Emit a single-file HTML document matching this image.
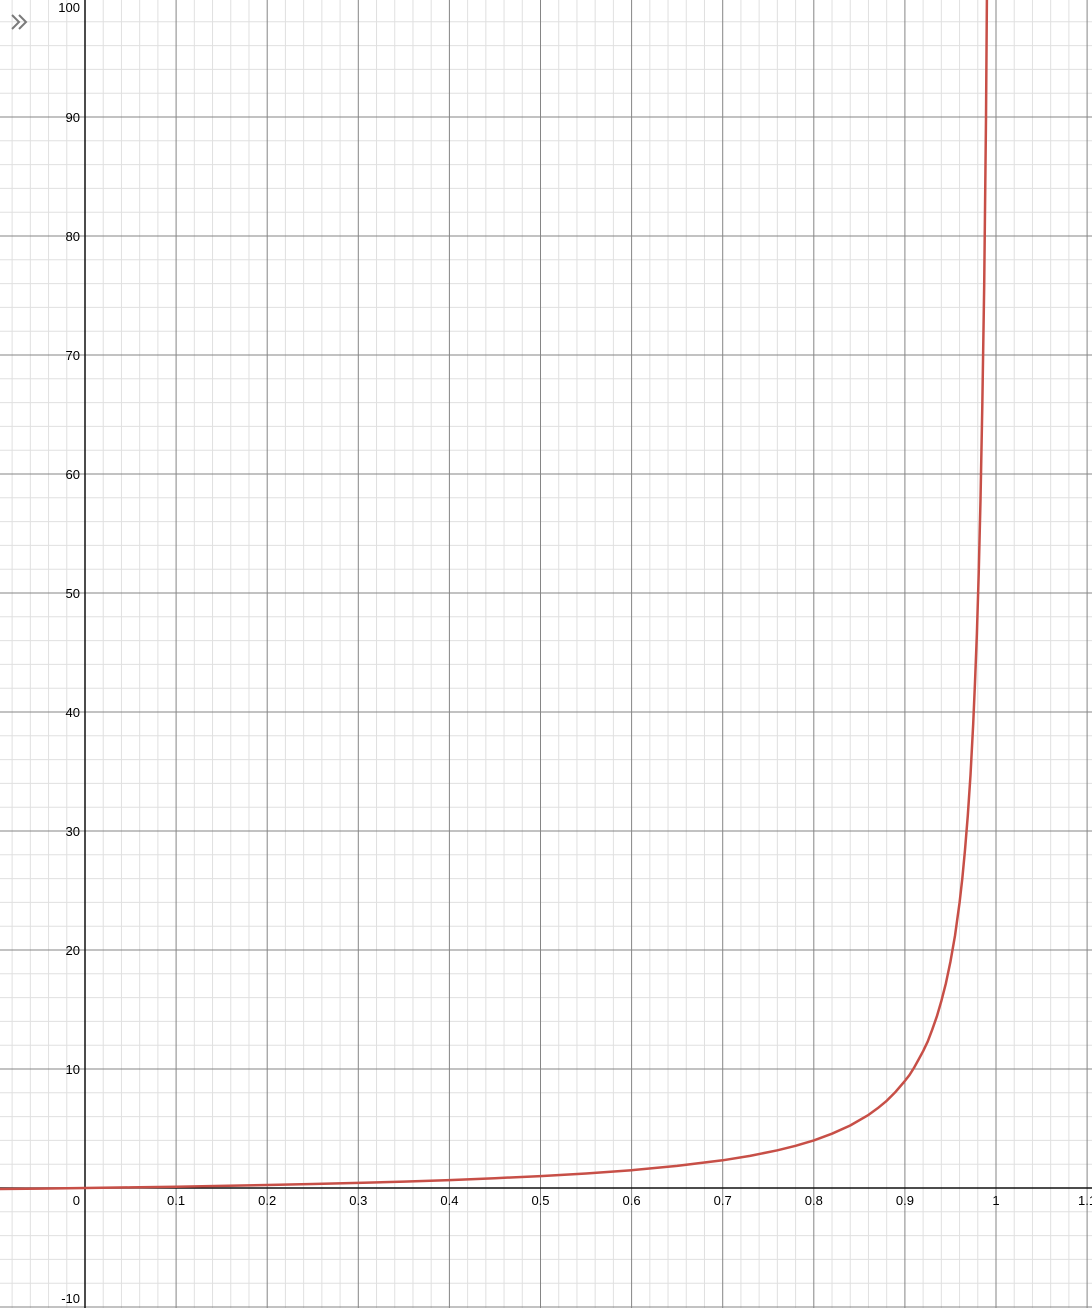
<!DOCTYPE html>
<html><head><meta charset="utf-8"><style>
html,body{margin:0;padding:0;background:#fff;}
svg{display:block;font-family:"Liberation Sans",Arial,sans-serif;}
</style></head><body>
<svg id="chart" width="1092" height="1308" viewBox="0 0 1092 1308">
<g id="minor"></g>
<g id="major"></g>
<g id="axes"></g>
<g id="labels"></g>
<g id="curve"></g>
<g fill="none" stroke="#7a7a7a" stroke-width="2">
<polyline points="12,15 19,22 12,29"/><polyline points="19,15 26,22 19,29"/>
</g>
</svg>
<script>
const xTicks = [0.1,0.2,0.3,0.4,0.5,0.6,0.7,0.8,0.9,1,1.1];
const xTickLabels = ["0.1","0.2","0.3","0.4","0.5","0.6","0.7","0.8","0.9","1","1.1"];
const yTicks = [-10,10,20,30,40,50,60,70,80,90,100];
const yTickLabels = ["-10","10","20","30","40","50","60","70","80","90","100"];
const curveX = [-0.1,-0.05,0,0.05,0.1,0.15,0.2,0.25,0.3,0.35,0.4,0.45,0.5,0.55,0.6,0.65,0.7,0.73,0.76,0.78,0.8,0.82,0.84,0.86,0.87,0.88,0.89,0.9,0.905,0.91,0.915,0.92,0.925,0.93,0.935,0.94,0.945,0.95,0.955,0.96,0.963,0.966,0.969,0.972,0.975,0.977,0.979,0.981,0.983,0.985,0.987,0.989,0.991];
const curveY = [-0.09,-0.048,0,0.053,0.111,0.176,0.25,0.333,0.43,0.54,0.667,0.82,1,1.22,1.5,1.86,2.33,2.7,3.17,3.55,4,4.56,5.25,6.14,6.7,7.33,8.1,9,9.5,10.1,10.8,11.5,12.3,13.3,14.4,15.7,17.2,19,21.2,24,26,28.4,31.3,34.7,39,42.5,46.6,51.6,57.8,65.7,75.9,89.9,110];
const NS="http://www.w3.org/2000/svg";
const X0=85, XS=911, Y0=1188, YS=11.9, W=1092, H=1308;
const sx=v=>X0+v*XS, sy=v=>Y0-v*YS;
function mk(tag,attrs,parent){const e=document.createElementNS(NS,tag);for(const k in attrs)e.setAttribute(k,attrs[k]);parent.appendChild(e);return e;}
const minor=document.getElementById('minor'),major=document.getElementById('major'),axes=document.getElementById('axes'),labels=document.getElementById('labels'),curve=document.getElementById('curve');
for(let i=-5;i<=60;i++){const x=sx(i*0.02);if(x<0||x>W)continue;
 const l=mk('line',{x1:x,y1:0,x2:x,y2:H,stroke:i%5===0?'#858585':'#e0e0e0','stroke-width':1},i%5===0?major:minor);
 
 }
for(let j=-6;j<=52;j++){const y=sy(j*2);if(y<0||y>H)continue;
 const l=mk('line',{x1:0,y1:y,x2:W,y2:y,stroke:j%5===0?'#858585':'#e0e0e0','stroke-width':1},j%5===0?major:minor);
 
 }
const xa=mk('line',{x1:0,y1:Y0,x2:W,y2:Y0,stroke:'#111','stroke-width':1.5},axes);


const ya=mk('line',{x1:X0,y1:0,x2:X0,y2:H,stroke:'#111','stroke-width':1.5},axes);


xTicks.forEach((v,i)=>{const t=mk('text',{x:sx(v),y:Y0+17,'font-size':13,'text-anchor':'middle',fill:'#000'},labels);t.textContent=xTickLabels[i];
 
 });
yTicks.forEach((v,i)=>{const t=mk('text',{x:X0-5,y:Math.min(Math.max(sy(v)+5,12),H-5),'font-size':13,'text-anchor':'end',fill:'#000'},labels);t.textContent=yTickLabels[i];
 
 });
const z=mk('text',{x:X0-5,y:Y0+17,'font-size':13,'text-anchor':'end',fill:'#000'},labels);z.textContent='0';


let d='';curveX.forEach((v,i)=>{d+=(i?'L':'M')+sx(v).toFixed(1)+' '+sy(curveY[i]).toFixed(1);});
const p=mk('path',{d:d,fill:'none',stroke:'#c74f47','stroke-width':2.5,'stroke-linejoin':'round'},curve);


</script>
</body></html>
